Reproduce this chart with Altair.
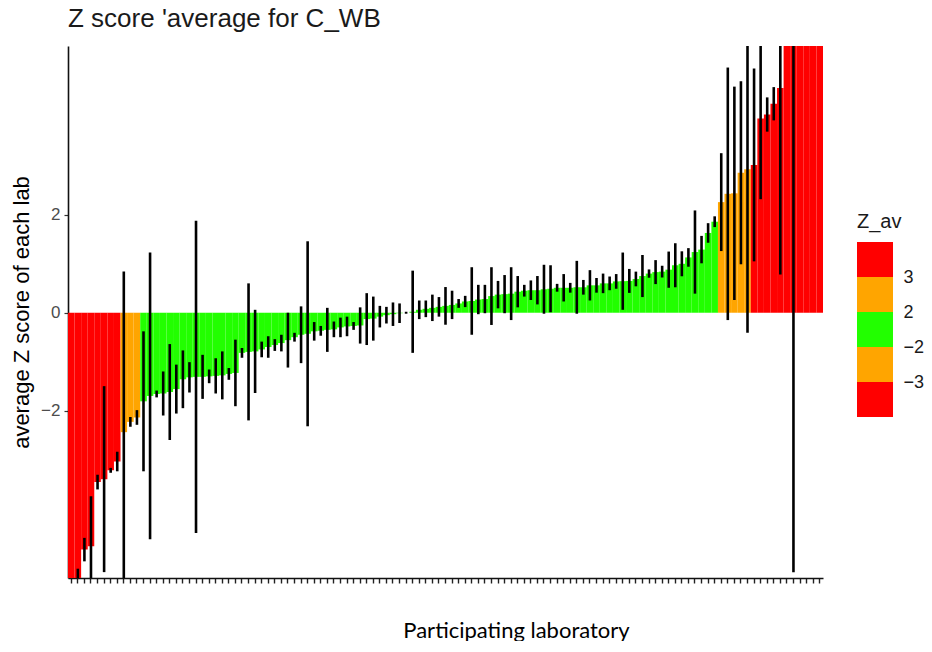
import altair as alt
import pandas as pd

# Average Z score per participating laboratory, sorted ascending
z_av = [
    -8.0, -6.0, -4.84, -4.77, -3.46, -3.40, -3.22, -3.04, -2.44, -2.23,
    -2.14, -1.81, -1.70, -1.66, -1.65, -1.62, -1.56, -1.36, -1.32, -1.31,
    -1.31, -1.30, -1.29, -1.28, -1.25, -1.23, -0.82, -0.80, -0.79, -0.75,
    -0.70, -0.66, -0.62, -0.56, -0.50, -0.45, -0.43, -0.38, -0.37, -0.35,
    -0.34, -0.30, -0.28, -0.27, -0.26, -0.13, -0.12, -0.08, -0.05, -0.03,
    -0.01, 0.00, 0.02, 0.06, 0.08, 0.10, 0.12, 0.14, 0.16, 0.19,
    0.23, 0.24, 0.27, 0.28, 0.34, 0.37, 0.38, 0.39, 0.43, 0.45,
    0.46, 0.46, 0.48, 0.49, 0.51, 0.51, 0.51, 0.52, 0.52, 0.56,
    0.56, 0.60, 0.60, 0.64, 0.645, 0.65, 0.69, 0.75, 0.80, 0.83,
    0.84, 0.88, 0.97, 1.00, 1.13, 1.24, 1.29, 1.63, 1.86, 2.26,
    2.43, 2.44, 2.86, 2.93, 3.02, 3.97, 4.05, 4.27, 4.59, 6.0,
    7.0, 7.5, 8.5, 9.5, 12.0,
]

# Spread (one standard deviation) of each laboratory's Z scores
z_sd = [
    0.5, 0.77, 0.24, 1.02, 0.15, 1.9, 0.05, 0.2, 3.28, 0.1,
    0.15, 1.43, 2.93, 0.07, 0.45, 0.98, 0.5, 0.59, 0.31, 3.19,
    0.45, 0.14, 0.36, 0.49, 0.12, 0.68, 0.1, 1.4, 0.85, 0.16,
    0.22, 0.12, 0.17, 0.56, 0.09, 0.58, 1.89, 0.19, 0.1, 0.45,
    0.16, 0.2, 0.2, 0.08, 0.37, 0.53, 0.45, 0.22, 0.17, 0.24,
    0.2, 0.02, 0.84, 0.19, 0.17, 0.27, 0.2, 0.385, 0.29, 0.09,
    0.115, 0.69, 0.3, 0.29, 0.59, 0.28, 0.39, 0.54, 0.32, 0.12,
    0.2, 0.29, 0.5, 0.48, 0.08, 0.28, 0.1, 0.54, 0.15, 0.31,
    0.15, 0.2, 0.14, 0.15, 0.585, 0.245, 0.15, 0.43, 0.085, 0.245,
    0.12, 0.37, 0.45, 0.255, 0.19, 0.85, 0.28, 0.2, 0.11, 1.0,
    2.58, 2.18, 1.87, 3.34, 1.97, 1.65, 0.35, 0.34, 3.81, 0.3,
    12.3, 0.3, 0.3, 0.3, 0.3,
]

band_names = ["red", "orange", "green"]
band_colors = ["#FF0000", "#FFA500", "#22FF00"]

# Legend blocks (bottom to top) and the thresholds printed between them
legend_bands = ["red", "orange", "green", "orange", "red"]
legend_breaks = [1, 2, 3, 4]
legend_labels = ["−3", "−2", "2", "3"]


def band_of(v):
    a = abs(v)
    if a >= 3:
        return "red"
    if a >= 2:
        return "orange"
    return "green"


labs = [f"Lab{i + 1:03d}" for i in range(len(z_av))]
df = pd.DataFrame({
    "lab": labs,
    "z": z_av,
    "lo": [m - s for m, s in zip(z_av, z_sd)],
    "hi": [m + s for m, s in zip(z_av, z_sd)],
    "band": [band_of(v) for v in z_av],
})

W, H = 755, 532

x_enc = alt.X(
    "lab:N", sort=None,
    scale=alt.Scale(paddingInner=0, paddingOuter=0),
    axis=alt.Axis(
        labels=False, ticks=True, tickSize=5, tickWidth=1.4, tickColor="#222222",
        domainColor="#111111", domainWidth=1.6,
        title="Participating laboratory", titleFont="Lato", titleFontSize=22,
        titleFontWeight="normal", titleColor="#000000",
        titleX=448, titleY=52, titleBaseline="middle", titleAnchor="middle",
    ),
)
y_scale = alt.Scale(domain=[-5.42, 5.45], nice=False, zero=False)

base = alt.Chart(df).encode(x=x_enc)

bars = base.mark_bar(clip=True, strokeWidth=0).encode(
    y=alt.Y(
        "z:Q", scale=y_scale,
        axis=alt.Axis(
            values=[-2, 0, 2], grid=False, tickSize=4, tickWidth=1.2, tickColor="#333333",
            domainColor="#111111", domainWidth=1.6,
            labelFont="Liberation Sans", labelFontSize=17, labelColor="#4D4D4D", labelPadding=4,
            title="average Z score of each lab", titleFont="Liberation Sans",
            titleFontSize=22, titleFontWeight="normal", titleColor="#000000",
            titleX=-47, titleY=H / 2, titleBaseline="middle", titleAnchor="middle",
        ),
    ),
    y2=alt.datum(0),
    color=alt.Color("band:N", scale=alt.Scale(domain=band_names, range=band_colors), legend=None),
)

errs = base.mark_rule(clip=True, strokeWidth=2.6, color="#000000", strokeCap="butt").encode(
    y=alt.Y("lo:Q", scale=y_scale),
    y2="hi:Q",
)

main = alt.layer(bars, errs).properties(width=W, height=H)

leg_df = pd.DataFrame({
    "lo": list(range(len(legend_bands))),
    "hi": [i + 1 for i in range(len(legend_bands))],
    "band": legend_bands,
})
leg_y = alt.Scale(domain=[-4.6, 10.6], nice=False, zero=False)
leg_x = alt.Scale(domain=[0, 1], nice=False, zero=False)

label_map = "{" + ", ".join(f"'{b}': '{t}'" for b, t in zip(legend_breaks, legend_labels)) + "}"

leg_rects = alt.Chart(leg_df).mark_rect().encode(
    x=alt.X("x0:Q", scale=leg_x, axis=None),
    x2="x1:Q",
    y=alt.Y(
        "lo:Q", scale=leg_y,
        axis=alt.Axis(
            orient="right", values=legend_breaks, domain=False, ticks=False, grid=False,
            labelExpr=label_map + "[toString(datum.value)]",
            labelFont="Liberation Sans", labelFontSize=18, labelColor="#1a1a1a",
            labelPadding=10, title=None,
        ),
    ),
    y2="hi:Q",
    color=alt.Color("band:N", scale=alt.Scale(domain=band_names, range=band_colors), legend=None),
).transform_calculate(x0="0", x1="1")

leg_title = alt.Chart(pd.DataFrame({"t": ["Z_av"]})).mark_text(
    align="left", baseline="middle", font="Liberation Sans", fontSize=20, color="#1a1a1a",
).encode(
    text="t:N",
    x=alt.datum(0, scale=leg_x),
    y=alt.datum(5.57, scale=leg_y),
)

legend = alt.layer(leg_rects, leg_title).properties(width=36, height=H)

chart = alt.hconcat(main, legend, spacing=34).properties(
    title=alt.TitleParams(
        "Z score 'average for C_WB", anchor="start", font="Liberation Sans",
        fontSize=26, fontWeight="normal", color="#1a1a1a", offset=14, dx=58,
    ),
    padding={"left": 10, "top": 6, "right": 0, "bottom": 0},
).configure_view(stroke=None)

chart.save("out.html", embed_options={"renderer": "svg", "actions": False})
